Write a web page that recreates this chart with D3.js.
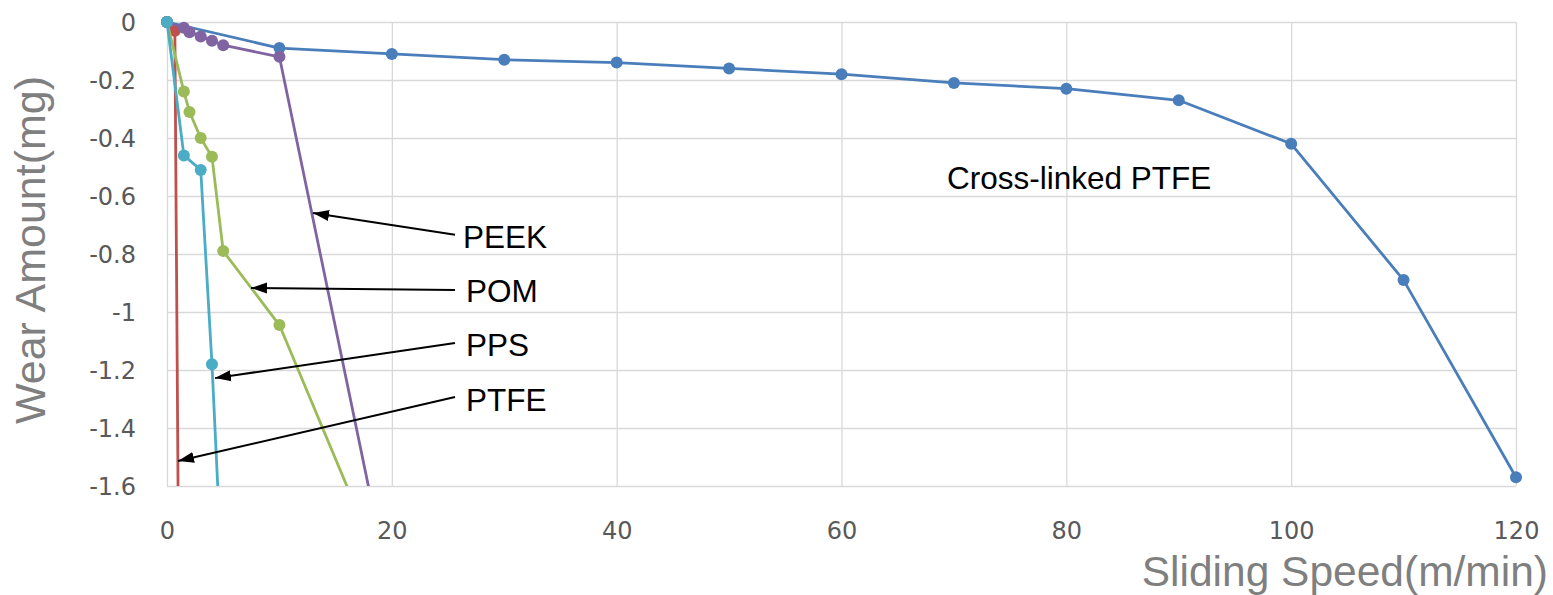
<!DOCTYPE html>
<html>
<head>
<meta charset="utf-8">
<script src="https://cdn.jsdelivr.net/npm/d3@7"></script>
<style>
  html, body { margin: 0; padding: 0; background: #fff; }
  svg { display: block; }
</style>
</head>
<body>
<svg id="chart" width="1553" height="595"></svg>
<script>
// ---------- data ----------
const xTicks = [0, 20, 40, 60, 80, 100, 120];
const xTickLabels = ["0", "20", "40", "60", "80", "100", "120"];
const yTicks = [0, -0.2, -0.4, -0.6, -0.8, -1, -1.2, -1.4, -1.6];
const yTickLabels = ["0", "-0.2", "-0.4", "-0.6", "-0.8", "-1", "-1.2", "-1.4", "-1.6"];

const seriesNames = ["Cross-linked PTFE", "PTFE", "POM", "PEEK", "PPS"];
const seriesColors = ["#4a7ebb", "#c0504d", "#9bbb59", "#8064a2", "#4bacc6"];

const xlinkX = [0, 10, 20, 30, 40, 50, 60, 70, 80, 90, 100, 110, 120];
const xlinkY = [0, -0.09, -0.11, -0.13, -0.14, -0.16, -0.18, -0.21, -0.23, -0.27, -0.42, -0.89, -1.57];
const ptfeX = [0, 0.7, 1.0];
const ptfeY = [0, -0.03, -1.7];
const pomX = [0, 1.5, 2, 3, 4, 5, 10, 20];
const pomY = [0, -0.24, -0.31, -0.40, -0.465, -0.79, -1.045, -1.97];
const peekX = [0, 1.5, 2, 3, 4, 5, 10, 20];
const peekY = [0, -0.02, -0.035, -0.05, -0.065, -0.08, -0.12, -1.99];
const ppsX = [0, 1.5, 3, 4, 5];
const ppsY = [0, -0.46, -0.51, -1.18, -2.0];

// annotation labels (data coordinates): label anchor, arrow tail, arrow tip
const annoNames = ["PEEK", "POM", "PPS", "PTFE"];
const annoLabelX = [26.33, 26.6, 26.6, 26.6];
const annoLabelY = [-0.779, -0.966, -1.152, -1.341];
const annoTailX = [25.62, 25.62, 25.62, 25.62];
const annoTailY = [-0.734, -0.924, -1.107, -1.293];
const annoTipX = [12.99, 7.47, 4.27, 0.98];
const annoTipY = [-0.659, -0.917, -1.228, -1.514];
const freeLabel = "Cross-linked PTFE";
const freeLabelX = 69.38, freeLabelY = -0.576;

const xTitle = "Sliding Speed(m/min)";
const yTitle = "Wear Amount(mg)";

// ---------- layout ----------
const margin = { left: 167, top: 22 };
const W = 1349, H = 464;

const svg = d3.select("#chart");
const x = d3.scaleLinear().domain([0, 120]).range([0, W]);
const y = d3.scaleLinear().domain([0, -1.6]).range([0, H]);

const g = svg.append("g").attr("transform", `translate(${margin.left},${margin.top})`);

const defs = svg.append("defs");
defs.append("clipPath").attr("id", "plotclip")
  .append("rect").attr("x", -8).attr("y", -8).attr("width", W + 16).attr("height", H + 8);

// gridlines
const gx = g.append("g").attr("class", "gridx")
  .attr("transform", `translate(0,${H})`)
  .call(d3.axisBottom(x).tickValues(xTicks).tickSize(-H).tickFormat(""));
const gy = g.append("g").attr("class", "gridy")
  .call(d3.axisLeft(y).tickValues(yTicks).tickSize(-W).tickFormat(""));
[gx, gy].forEach(a => {
  a.select(".domain").remove();
  a.selectAll("line").attr("stroke", "#d9d9d9").attr("stroke-width", 1.3);
});

// tick labels
const ax = g.append("g").attr("transform", `translate(0,${H})`)
  .call(d3.axisBottom(x).tickValues(xTicks).tickSize(0).tickPadding(0)
    .tickFormat((d, i) => xTickLabels[i]));
ax.select(".domain").remove();
ax.selectAll("text").attr("font-family", "DejaVu Sans, Verdana, sans-serif")
  .attr("font-size", 24).attr("fill", "#595959").attr("y", 53).attr("dy", 0);

const ay = g.append("g")
  .call(d3.axisLeft(y).tickValues(yTicks).tickSize(0).tickPadding(0)
    .tickFormat((d, i) => yTickLabels[i]));
ay.select(".domain").remove();
ay.selectAll("text").attr("font-family", "DejaVu Sans, Verdana, sans-serif")
  .attr("font-size", 24).attr("fill", "#595959").attr("x", -31).attr("dy", "0.36em");

// series
const seriesData = [
  [xlinkX, xlinkY], [ptfeX, ptfeY], [pomX, pomY], [peekX, peekY], [ppsX, ppsY]
];
const drawOrder = [0, 1, 2, 3, 4];
const line = d3.line().x(d => x(d[0])).y(d => y(d[1]));
const plot = g.append("g").attr("clip-path", "url(#plotclip)");
drawOrder.forEach(si => {
  const [xs, ys] = seriesData[si];
  const pts = xs.map((v, i) => [v, ys[i]]);
  const sg = plot.append("g").attr("class", "series-" + si);
  sg.append("path").datum(pts).attr("d", line)
    .attr("fill", "none").attr("stroke", seriesColors[si]).attr("stroke-width", 2.8)
    .attr("stroke-linejoin", "round");
  sg.selectAll("circle").data(pts).join("circle")
    .attr("cx", d => x(d[0])).attr("cy", d => y(d[1])).attr("r", 6)
    .attr("fill", seriesColors[si]);
});

// annotations
defs.append("marker").attr("id", "arrowhead")
  .attr("viewBox", "0 0 16 12").attr("refX", 0).attr("refY", 6)
  .attr("markerWidth", 16).attr("markerHeight", 12).attr("markerUnits", "userSpaceOnUse")
  .attr("orient", "auto")
  .append("path").attr("d", "M0,6 L16,0.5 L16,11.5 Z").attr("fill", "#000");

const anno = g.append("g");
annoNames.forEach((name, i) => {
  anno.append("line")
    .attr("x1", x(annoTipX[i])).attr("y1", y(annoTipY[i]))
    .attr("x2", x(annoTailX[i])).attr("y2", y(annoTailY[i]))
    .attr("stroke", "#000").attr("stroke-width", 2)
    .attr("marker-start", "url(#arrowhead)");
  anno.append("text").attr("x", x(annoLabelX[i])).attr("y", y(annoLabelY[i]))
    .attr("font-family", "Liberation Sans, Arial, sans-serif").attr("font-size", 31.5)
    .attr("fill", "#000").text(name);
});
anno.append("text").attr("x", x(freeLabelX)).attr("y", y(freeLabelY))
  .attr("font-family", "Liberation Sans, Arial, sans-serif").attr("font-size", 31.5)
  .attr("fill", "#000").text(freeLabel);

// axis titles
svg.append("text").attr("x", 1548).attr("y", 586).attr("text-anchor", "end")
  .attr("font-family", "Liberation Sans, Arial, sans-serif").attr("font-size", 42.5)
  .attr("fill", "#7f7f7f").text(xTitle);
svg.append("text").attr("transform", "translate(45,250) rotate(-90)").attr("text-anchor", "middle")
  .attr("font-family", "Liberation Sans, Arial, sans-serif").attr("font-size", 43)
  .attr("fill", "#7f7f7f").text(yTitle);
</script>
</body>
</html>
